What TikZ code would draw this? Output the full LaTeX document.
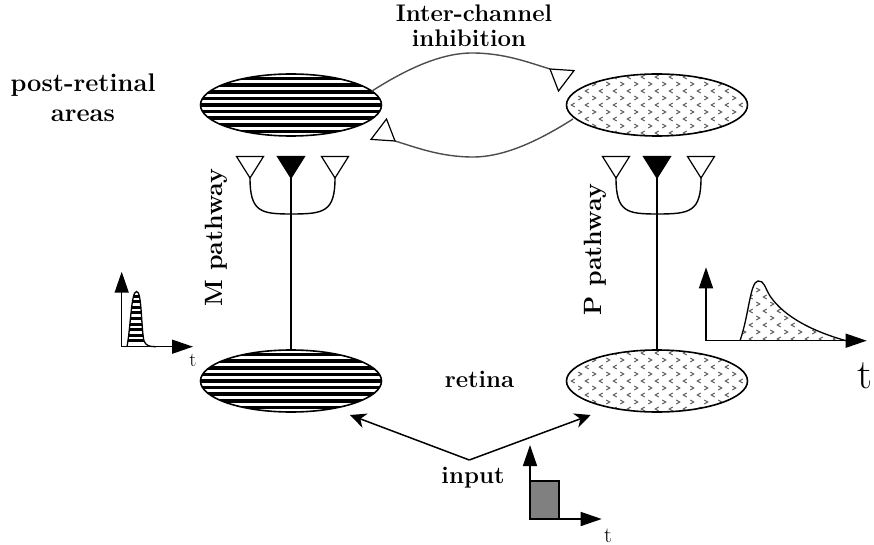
\documentclass[tikz,border=0pt]{standalone}
\usetikzlibrary{arrows.meta,calc,shapes.geometric}
\newcommand\chevfill{%
  \foreach \y in {-35,-21,-7,7,21,35} \foreach \x in {-91,-77,...,91} {\draw[chevline] (\x-1.7,\y-2) -- (\x+1.7,\y) -- (\x-1.7,\y+2);}%
  \foreach \y in {-28,-14,0,14,28} \foreach \x in {-84,-70,...,84} {\draw[chevline] (\x+1.7,\y-2) -- (\x-1.7,\y) -- (\x+1.7,\y+2);}%
}
\begin{document}
\begin{tikzpicture}[x=1pt,y=-1pt,
  chevline/.style={draw=black!65, line width=1pt},
  lab/.style={font=\fontsize{24}{28}\selectfont\bfseries, inner sep=0pt},
  biglab/.style={font=\fontsize{25.5}{30}\selectfont\bfseries, inner sep=0pt},
  vlab/.style={font=\fontsize{25}{28}\selectfont\bfseries, inner sep=0pt},
  tlab/.style={inner sep=0pt},
  oval/.style={ellipse, draw, line width=1.6pt, minimum width=181pt, minimum height=62pt, inner sep=0pt},
  striped/.style={path picture={\foreach \k in {-6,...,6} \draw[line width=3.6pt] ([yshift=\k*6.6pt]path picture bounding box.west) -- ([yshift=\k*6.6pt]path picture bounding box.east);}},
  specks/.style={path picture={\begin{scope}[shift={(path picture bounding box.center)}]\chevfill\end{scope}}},
  wire/.style={line width=1.4pt},
  inh/.style={draw=black!70, line width=1.4pt},
  syn/.style={draw, line width=1.2pt, fill=white, line join=miter},
  axis/.style={line width=1.5pt, -{Triangle[length=21pt,width=14pt]}},
  inarrow/.style={line width=1.5pt, -{Stealth[length=16pt,width=15pt,inset=5pt]}}
]
\useasboundingbox (0,0) rectangle (874,545);

% ellipses
\node[oval, striped] (tl) at (291,105) {};
\node[oval, specks] (tr) at (657,105) {};
\node[oval, striped] (bl) at (291,381) {};
\node[oval, specks] (br) at (657,381) {};

% labels
\node[biglab, anchor=base] (post) at (83,92) {post-retinal};
\node[biglab, anchor=base] (areas) at (83,122) {areas};
\node[lab, anchor=base] (inter) at (474,22) {Inter-channel};
\node[lab, anchor=base] (inhib) at (469,46.7) {inhibition};
\node[vlab, anchor=base, rotate=90] (mpath) at (222,237.5) {M pathway};
\node[vlab, anchor=base, rotate=90] (ppath) at (601,249.5) {P pathway};
\node[lab, anchor=base] (retina) at (479.5,387) {retina};
\node[lab, anchor=base] (input) at (473,483) {input};

% inter-channel inhibition
\coordinate (u0) at (372,91);
\coordinate (u1) at (550,69);
\coordinate (u2) at (574,70.6);
\coordinate (u3) at (558.5,91);
\draw[inh] (u0) .. controls (405,70) and (440,53) .. (472,53) .. controls (505,53) and (530,63) .. (u1);
\draw[syn] (u1) -- (u2) -- (u3) -- cycle;
\coordinate (d0) at (573,119);
\coordinate (d1) at (395,141);
\coordinate (d2) at (371,139.4);
\coordinate (d3) at (386.5,119);
\draw[inh] (d0) .. controls (540,140) and (505,157) .. (473,157) .. controls (440,157) and (415,147) .. (d1);
\draw[syn] (d1) -- (d2) -- (d3) -- cycle;

% pathway forks
\foreach \cx/\nm in {291/M, 657/P} {
  \coordinate (\nm a) at (\cx-41,178);
  \coordinate (\nm b) at (\cx,178);
  \coordinate (\nm c) at (\cx+44,178);
  \draw[wire] (\nm a) .. controls (\cx-41,212) and (\cx-30,214) .. (\cx,214) .. controls (\cx+33,214) and (\cx+44,212) .. (\nm c);
  \draw[syn] ($(\nm a)+(-13.5,-21.5)$) -- ($(\nm a)+(13.5,-21.5)$) -- (\nm a) -- cycle;
  \draw[syn] ($(\nm c)+(-13.5,-21.5)$) -- ($(\nm c)+(13.5,-21.5)$) -- (\nm c) -- cycle;
  \draw[syn, fill=black] ($(\nm b)+(-13.5,-21.5)$) -- ($(\nm b)+(13.5,-21.5)$) -- (\nm b) -- cycle;
}
\draw[wire] (Mb) -- (bl.north);
\draw[wire] (Pb) -- (br.north);

% input arrows
\coordinate (iv) at (469.3,460);
\coordinate (il) at (350,415);
\coordinate (ir) at (590.7,415);
\draw[inarrow] (iv) -- (il);
\draw[inarrow] (iv) -- (ir);

% input graph
\coordinate (io) at (530,519);
\coordinate (iy) at (530,445);
\coordinate (ix) at (601.7,519);
\draw[line width=1.3pt, fill=black!50] (530,481) rectangle (559,519);
\draw[axis] (io) -- (iy);
\draw[axis] (io) -- (ix);
\node[tlab, font=\fontsize{22}{24}\selectfont, anchor=base] (it) at (608,542) {t};

% left small graph (M response)
\coordinate (lo) at (121.7,346.7);
\coordinate (ly) at (121.7,271.7);
\coordinate (lx) at (193,346.7);
\begin{scope}
  \clip (127,346.7) .. controls (131,325) and (131,292) .. (136.5,291.5) .. controls (142,291) and (141,328) .. (144,341) .. controls (146,346) and (150,346.7) .. (156,346.7) -- cycle;
  \foreach \y in {296,301.6,...,346} \draw[line width=3pt] (120,\y) -- (160,\y);
\end{scope}
\draw[line width=1.3pt] (127,346.7) .. controls (131,325) and (131,292) .. (136.5,291.5) .. controls (142,291) and (141,328) .. (144,341) .. controls (146,346) and (150,346.7) .. (156,346.7);
\draw[axis] (lo) -- (ly);
\draw[axis] (lo) -- (lx);
\node[tlab, font=\fontsize{20}{22}\selectfont, anchor=base] (lt) at (193,366) {t};

% right small graph (P response)
\coordinate (ro) at (706,340.7);
\coordinate (ry) at (706,267.3);
\coordinate (rx) at (866.7,340.7);
\begin{scope}
  \clip (740,340.7) .. controls (749,315) and (750,282) .. (758,281) .. controls (764,280) and (765,288) .. (770,296) .. controls (785,318) and (815,332) .. (846,340.7) -- cycle;
  \begin{scope}[shift={(793,311)}]\chevfill\end{scope}
\end{scope}
\draw[line width=1.3pt] (740,340.7) .. controls (749,315) and (750,282) .. (758,281) .. controls (764,280) and (765,288) .. (770,296) .. controls (785,318) and (815,332) .. (846,340.7);
\draw[axis] (ro) -- (ry);
\draw[axis] (ro) -- (rx);
\node[tlab, font=\fontsize{42}{46}\selectfont, anchor=base] (rt) at (865,388) {t};
\end{tikzpicture}
\end{document}
